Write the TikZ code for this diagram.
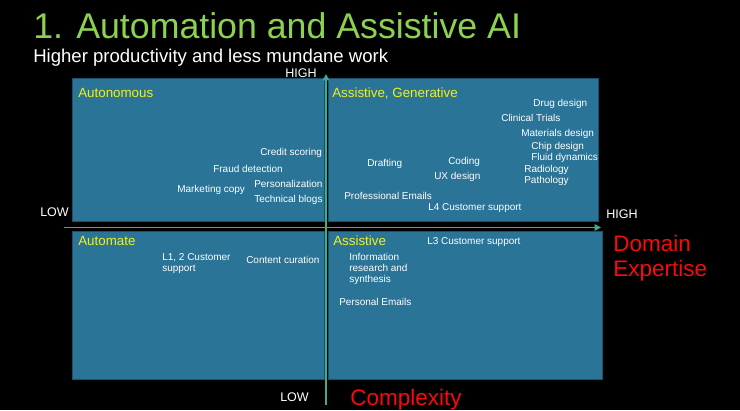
\documentclass[tikz,border=0pt]{standalone}
\usepackage{fontspec}
\setmainfont{Liberation Sans}
\usetikzlibrary{arrows.meta,positioning}
\definecolor{titlegreen}{RGB}{140,210,80}
\definecolor{boxblue}{RGB}{42,116,151}
\definecolor{boxedge}{RGB}{28,80,110}
\definecolor{axisgreen}{RGB}{60,172,140}
\definecolor{quadyellow}{RGB}{245,240,20}
\definecolor{axisred}{RGB}{250,10,10}

\begin{document}
\begin{tikzpicture}[x=0.025cm,y=-0.025cm,
    quadbox/.style={draw=boxedge,line width=0.7pt,fill=boxblue,inner sep=0pt},
    item/.style={text=white,font=\fontsize{7.1}{7.8}\selectfont,inner sep=0pt,anchor=base west},
    quadlabel/.style={text=quadyellow,font=\fontsize{9.5}{11}\selectfont,inner sep=0pt,anchor=base west},
    ticklabel/.style={text=white,font=\fontsize{8.9}{10}\selectfont,inner sep=0pt,anchor=base west},
    axislabel/.style={text=axisred,font=\fontsize{16}{17.8}\selectfont,inner sep=0pt,align=left},
    axis/.style={draw=axisgreen,line width=1.4pt,-{Triangle[length=4.5pt,width=4.5pt]}}]
  \fill[black] (0,0) rectangle (740,410);
  \useasboundingbox (0,0) rectangle (740,410);

  \node[text=titlegreen,font=\fontsize{25.4}{28}\selectfont,inner sep=0pt,anchor=base west] (title) at (33,38) {1. Automation and Assistive AI};
  \node[text=white,font=\fontsize{13.2}{15}\selectfont,inner sep=0pt,anchor=base west] (subtitle) at (33,62) {Higher productivity and less mundane work};

  \node[quadbox,minimum width=6.275cm,minimum height=3.55cm] (tl) at (198.5,150) {};
  \node[quadbox,minimum width=6.725cm,minimum height=3.55cm] (tr) at (463.5,150) {};
  \node[quadbox,minimum width=6.275cm,minimum height=3.675cm] (bl) at (198.5,305.5) {};
  \node[quadbox,minimum width=6.825cm,minimum height=3.675cm] (br) at (465.5,305.5) {};

  \coordinate (xlo) at (64,227.5);
  \coordinate (xhi) at (601,227.5);
  \coordinate (ylo) at (326,405);
  \coordinate (yhi) at (326,74);
  \draw[axis] (xlo) -- (xhi);
  \draw[axis] (ylo) -- (yhi);

  \node[ticklabel] (yhigh) at (285,77) {HIGH};
  \node[ticklabel] (ylow) at (280,401) {LOW};
  \node[ticklabel] (xlow) at (40,216) {LOW};
  \node[ticklabel] (xhigh) at (606,218) {HIGH};
  \node[axislabel,anchor=north west] (xname) at (613,234.5) {Domain\\Expertise};
  \node[axislabel,anchor=base west] (yname) at (350,405) {Complexity};

  \node[quadlabel] (autonomous) at (78,97) {Autonomous};
  \node[quadlabel] (generative) at (332,97) {Assistive, Generative};
  \node[quadlabel] (automate) at (78,245) {Automate};
  \node[quadlabel] (assistive) at (333,245) {Assistive};

  \node[item] (credit) at (260,155.5) {Credit scoring};
  \node[item] (fraud) at (213,172.5) {Fraud detection};
  \node[item] (marketing) at (177,192.5) {Marketing copy};
  \node[item] (personal) at (254,187.5) {Personalization};
  \node[item] (blogs) at (254,202.5) {Technical blogs};

  \node[item] (drug) at (533,106.5) {Drug design};
  \node[item] (clinical) at (501,121.5) {Clinical Trials};
  \node[item] (materials) at (521,136.5) {Materials design};
  \node[item] (chip) at (531,149.5) {Chip design};
  \node[item] (fluid) at (531,160.5) {Fluid dynamics};
  \node[item] (radio) at (524,172.5) {Radiology};
  \node[item] (patho) at (524,183.5) {Pathology};
  \node[item] (drafting) at (367,166.5) {Drafting};
  \node[item] (coding) at (448,164.5) {Coding};
  \node[item] (ux) at (434,179.5) {UX design};
  \node[item] (proemails) at (344,199.5) {Professional Emails};
  \node[item] (lfour) at (428,210.5) {L4 Customer support};

  \node[item,anchor=north west,align=left] (lonetwo) at (162,253.3) {L1, 2 Customer\\support};
  \node[item] (curation) at (246,263.5) {Content curation};
  \node[item] (lthree) at (427,244.5) {L3 Customer support};
  \node[item,anchor=north west,align=left] (research) at (349,253.3) {Information\\research and\\synthesis};
  \node[item] (peremails) at (339,305.5) {Personal Emails};
\end{tikzpicture}
\end{document}
